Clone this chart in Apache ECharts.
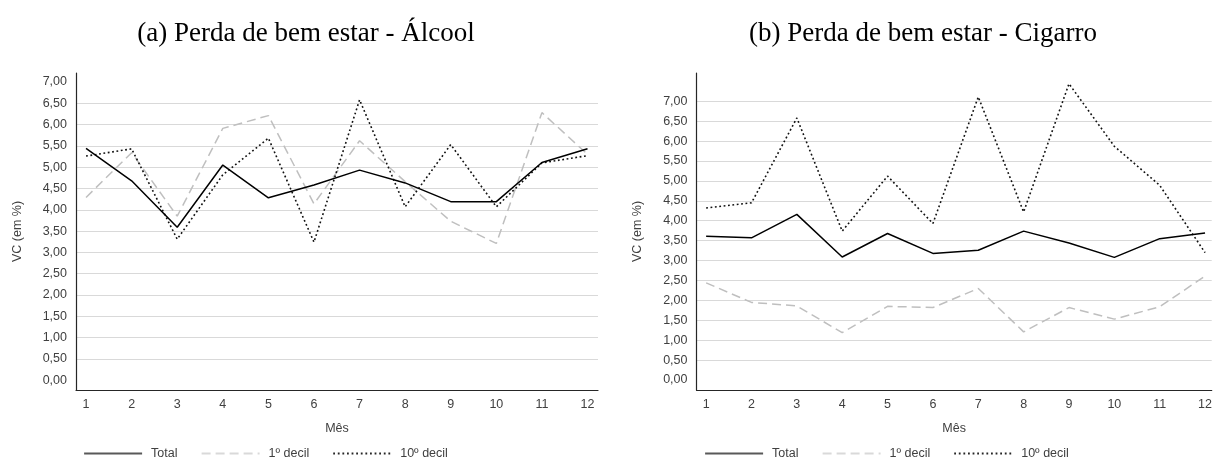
<!DOCTYPE html>
<html>
<head>
<meta charset="utf-8">
<script src="https://cdn.jsdelivr.net/npm/echarts@6/dist/echarts.min.js"></script>
<style>
  html, body { margin: 0; padding: 0; background: #ffffff; }
  #chart { width: 1215px; height: 460px; }
</style>
</head>
<body>
<div id="chart"></div>
<script>
// ---- data ----
var months = [1, 2, 3, 4, 5, 6, 7, 8, 9, 10, 11, 12];
var yTicks = [0, 0.5, 1, 1.5, 2, 2.5, 3, 3.5, 4, 4.5, 5, 5.5, 6, 6.5, 7];
var gridLinesA = [0.5, 1, 1.5, 2, 2.5, 3, 3.5, 4, 4.5, 5, 5.5, 6, 6.5];
var gridLinesB = [0.5, 1, 1.5, 2, 2.5, 3, 3.5, 4, 4.5, 5, 5.5, 6, 6.5, 7];
var seriesNames = ['Total', '1º decil', '10º decil'];
var titleA = '(a) Perda de bem estar - Álcool';
var titleB = '(b) Perda de bem estar - Cigarro';
var yName = 'VC (em %)';
var xName = 'Mês';

var alcoolTotal = [5.44, 4.68, 3.59, 5.05, 4.28, 4.58, 4.93, 4.63, 4.19, 4.19, 5.11, 5.43];
var alcoolD1    = [4.29, 5.34, 3.85, 5.91, 6.21, 4.14, 5.62, 4.66, 3.73, 3.21, 6.28, 5.30];
var alcoolD10   = [5.26, 5.43, 3.31, 4.82, 5.68, 3.24, 6.58, 4.07, 5.53, 4.07, 5.10, 5.27];

var cigTotal = [3.61, 3.57, 4.16, 3.09, 3.68, 3.18, 3.26, 3.74, 3.44, 3.08, 3.55, 3.69];
var cigD1    = [2.44, 1.95, 1.86, 1.19, 1.85, 1.82, 2.30, 1.21, 1.82, 1.53, 1.84, 2.61];
var cigD10   = [4.32, 4.45, 6.58, 3.74, 5.12, 3.93, 7.11, 4.22, 7.44, 5.87, 4.89, 3.20];

// ---- helpers ----
var FONT = 'Liberation Sans, Arial, sans-serif';
var TXT = '#404040';
function pairs(vals) { return months.map(function (m, i) { return [m, vals[i]]; }); }
function fmt(v) { return v.toFixed(2).replace('.', ','); }

var styles = [
  { color: '#000000', width: 1.5, type: 'solid' },
  { color: '#bfbfbf', width: 1.5, type: [9, 5] },
  { color: '#111111', width: 1.6, type: [1.8, 2.6] }
];
var legendStyles = [
  { color: '#595959', width: 2.2, type: 'solid' },
  { color: '#d9d9d9', width: 2.2, type: [9, 5] },
  { color: '#262626', width: 1.8, type: [1.8, 2.8] }
];

function makeX(gi, min, max) {
  return {
    type: 'value', gridIndex: gi, min: min, max: max,
    name: xName, nameLocation: 'middle', nameGap: 32,
    nameTextStyle: { fontFamily: FONT, fontSize: 12.5, color: TXT },
    axisLine: { show: true, onZero: false, lineStyle: { color: '#262626', width: 1.2 } },
    axisTick: { show: false },
    splitLine: { show: false },
    axisLabel: { customValues: months, margin: 8, fontFamily: FONT, fontSize: 12.5, color: TXT }
  };
}
function makeY(gi, min, max, lines) {
  return {
    type: 'value', gridIndex: gi, min: min, max: max,
    name: yName, nameLocation: 'middle', nameGap: 52,
    nameTextStyle: { fontFamily: FONT, fontSize: 12.5, color: TXT },
    axisLine: { show: true, onZero: false, lineStyle: { color: '#262626', width: 1.2 } },
    axisTick: { show: false, customValues: lines },
    splitLine: { show: true, lineStyle: { color: '#d9d9d9', width: 1 } },
    axisLabel: { customValues: yTicks, margin: 9, fontFamily: FONT, fontSize: 12.5, color: TXT,
                 formatter: function (v) { return fmt(v); } }
  };
}
function makeSeries(gi, arrs) {
  return arrs.map(function (arr, k) {
    return {
      name: seriesNames[k], type: 'line', xAxisIndex: gi, yAxisIndex: gi,
      data: pairs(arr), symbol: 'none', showSymbol: false, silent: true,
      z: k === 1 ? 2 : (k === 2 ? 3 : 4),
      itemStyle: { color: styles[k].color },
      lineStyle: styles[k]
    };
  });
}
function makeLegend(left) {
  return {
    show: true, left: left, top: 447, orient: 'horizontal', padding: 0,
    itemWidth: 58, itemHeight: 14, itemGap: 23,
    textStyle: { fontFamily: FONT, fontSize: 12.5, color: TXT, padding: [0, 0, 0, 4] },
    data: seriesNames.map(function (n, k) {
      return { name: n, lineStyle: legendStyles[k], itemStyle: { opacity: 0 } };
    }),
    selectedMode: false
  };
}

var chart = echarts.init(document.getElementById('chart'), null, { renderer: 'canvas' });
chart.setOption({
  animation: false,
  backgroundColor: '#ffffff',
  title: [
    { text: titleA, left: 301, top: 15, textAlign: 'center',
      textStyle: { fontFamily: 'Liberation Serif, Times New Roman, serif', fontSize: 27, fontWeight: 'normal', color: '#000' } },
    { text: titleB, left: 918, top: 15, textAlign: 'center',
      textStyle: { fontFamily: 'Liberation Serif, Times New Roman, serif', fontSize: 27, fontWeight: 'normal', color: '#000' } }
  ],
  grid: [
    { left: 76, right: 617, top: 73, bottom: 70, containLabel: false },
    { left: 696.5, right: 0, top: 73, bottom: 70, containLabel: false }
  ],
  xAxis: [ makeX(0, 0.78, 12.23), makeX(1, 0.7875, 12.147) ],
  yAxis: [ makeY(0, -0.23, 7.21, gridLinesA), makeY(1, -0.25, 7.71, gridLinesB) ],
  legend: [ makeLegend(83), makeLegend(704) ],
  series: makeSeries(0, [alcoolTotal, alcoolD1, alcoolD10]).concat(makeSeries(1, [cigTotal, cigD1, cigD10]))
});
</script>
</body>
</html>
